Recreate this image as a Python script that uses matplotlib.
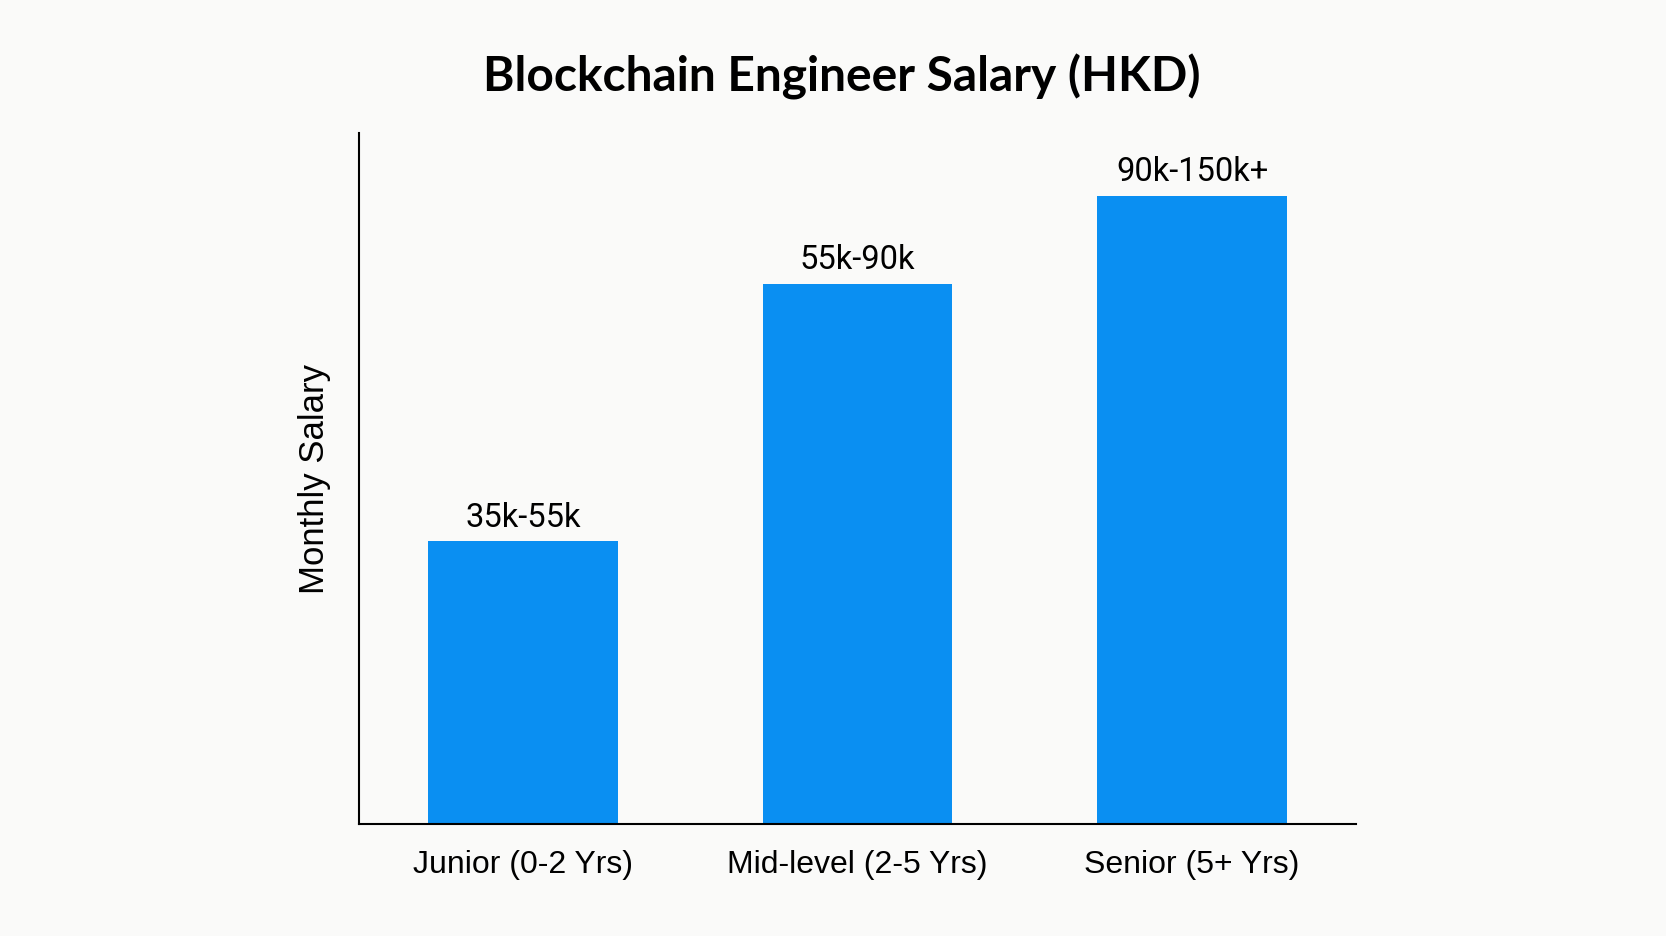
import matplotlib.pyplot as plt

# data
levels = ["Junior (0-2 Yrs)", "Mid-level (2-5 Yrs)", "Senior (5+ Yrs)"]
salary = [45, 86, 100]
salary_labels = ["35k-55k", "55k-90k", "90k-150k+"]

fig = plt.figure(figsize=(16.66, 9.37), dpi=100)
fig.patch.set_facecolor("#fafaf9")
ax = fig.add_axes([0.2155, 0.12, 0.5985, 0.737])
ax.set_facecolor("#fafaf9")

x = range(len(levels))
bars = ax.bar(x, salary, width=0.567, color="#0a8ff2")

for b, lab in zip(bars, salary_labels):
    ax.annotate(lab, (b.get_x() + b.get_width() / 2, b.get_height()),
                xytext=(0, 6), textcoords="offset points",
                ha="center", va="bottom", fontsize=23.5, family="Roboto")

ax.set_xlim(-0.49, 2.49)
ax.set_ylim(0, 110)
ax.set_xticks(list(x))
ax.set_xticklabels(levels, fontsize=23, family="Liberation Sans")
ax.tick_params(axis="x", length=0, pad=18)
ax.set_yticks([])
ax.set_ylabel("Monthly Salary", fontsize=25, family="Liberation Sans", labelpad=20)

for s in ["top", "right"]:
    ax.spines[s].set_visible(False)
for s in ["left", "bottom"]:
    ax.spines[s].set_linewidth(1.5)

fig.text(0.505, 0.918, "Blockchain Engineer Salary (HKD)", ha="center", va="center",
         fontsize=34.5, fontweight="bold", family="Lato")

fig.savefig("out.png", dpi=100, facecolor=fig.get_facecolor())
